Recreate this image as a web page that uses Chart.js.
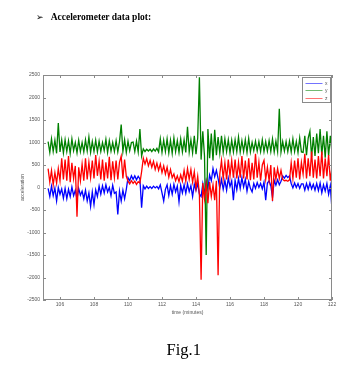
<!DOCTYPE html>
<html><head><meta charset="utf-8">
<script src="https://cdn.jsdelivr.net/npm/chart.js@4.4.1/dist/chart.umd.min.js"></script>
<style>
html,body{margin:0;padding:0;background:#fff;}
#wrap{position:relative;width:364px;height:373px;overflow:hidden;background:#fff;}
#c{position:absolute;left:0;top:0;}
.arrow{position:absolute;left:36px;top:13px;font:9px "DejaVu Sans",sans-serif;line-height:9.5px;color:#000;}
.head{position:absolute;left:50.7px;top:13.3px;font:bold 9.5px "Liberation Serif","Times New Roman",serif;line-height:9.5px;color:#000;white-space:nowrap;}
.cap{position:absolute;left:166.5px;top:342.2px;font:16.5px "Liberation Serif","Times New Roman",serif;line-height:16.5px;color:#000;white-space:nowrap;}
</style></head>
<body>
<div id="wrap">
<canvas id="c" width="364" height="373"></canvas>
<div class="arrow">➢</div>
<div class="head">Accelerometer data plot:</div>
<div class="cap">Fig.1</div>
</div>
<script>
const minutes = [
105.3,105.4,105.5,105.6,105.7,105.8,105.9,106.0,106.1,106.2,
106.3,106.4,106.5,106.6,106.7,106.8,106.9,107.0,107.1,107.2,
107.3,107.4,107.5,107.6,107.7,107.8,107.9,108.0,108.1,108.2,
108.3,108.4,108.5,108.6,108.7,108.8,108.9,109.0,109.1,109.2,
109.3,109.4,109.5,109.6,109.7,109.8,109.9,110.0,110.1,110.2,
110.3,110.4,110.5,110.6,110.7,110.8,110.9,111.0,111.1,111.2,
111.3,111.4,111.5,111.6,111.7,111.8,111.9,112.0,112.1,112.2,
112.3,112.4,112.5,112.6,112.7,112.8,112.9,113.0,113.1,113.2,
113.3,113.4,113.5,113.6,113.7,113.8,113.9,114.0,114.1,114.2,
114.3,114.4,114.5,114.6,114.7,114.8,114.9,115.0,115.1,115.2,
115.3,115.4,115.5,115.6,115.7,115.8,115.9,116.0,116.1,116.2,
116.3,116.4,116.5,116.6,116.7,116.8,116.9,117.0,117.1,117.2,
117.3,117.4,117.5,117.6,117.7,117.8,117.9,118.0,118.1,118.2,
118.3,118.4,118.5,118.6,118.7,118.8,118.9,119.0,119.1,119.2,
119.3,119.4,119.5,119.6,119.7,119.8,119.9,120.0,120.1,120.2,
120.3,120.4,120.5,120.6,120.7,120.8,120.9,121.0,121.1,121.2,
121.3,121.4,121.5,121.6,121.7,121.8,121.9,122.0
];
const accX = [
-20,-200,30,-180,-10,-300,0,-150,-30,-240,
-20,-250,-40,-200,10,-180,-60,-260,-20,-170,
-80,-250,-60,-300,-120,-420,-100,-380,-50,-200,
30,-150,40,-120,60,-100,0,-180,50,-130,
-100,-600,-80,-300,-60,-250,-40,220,150,260,
180,260,170,250,190,-450,40,-30,30,-20,
20,-20,30,-10,25,-30,60,-120,-300,-40,
60,-180,40,-150,70,-100,30,-320,50,-120,
60,-130,80,-90,40,-200,70,-60,90,-150,
-200,80,-150,150,-30,280,150,420,240,380,
200,-20,180,-40,160,-60,210,20,150,-280,
160,-50,200,-20,220,10,180,-80,130,-20,
-100,90,-20,110,0,90,-30,120,-280,100,
150,40,-220,160,50,170,60,140,260,210,
270,220,260,90,-10,100,0,90,-20,80,
80,-60,90,-40,100,-30,70,-60,90,-70,
100,-120,60,-80,90,-150,40,-500
];
const accY = [
1020,780,1080,800,1050,760,1430,790,1060,770,
1060,800,1040,760,1080,820,1000,770,1050,800,
1000,790,1060,810,1120,780,1020,800,1050,790,
1030,800,1000,820,1070,780,1040,810,1000,800,
1040,790,1020,1400,800,1060,780,1030,820,1000,
1010,800,1030,790,1300,700,860,800,850,810,
850,800,860,810,870,790,1080,780,1050,800,
1080,770,1050,760,1100,800,1040,780,1080,790,
1060,780,1350,790,1060,770,1150,740,1100,2450,
620,1250,700,-1500,1300,650,1200,600,1280,720,
1120,760,1150,780,1080,800,1060,770,1050,790,
1060,800,1120,790,1040,800,1060,780,1090,790,
1000,820,1030,810,1020,800,1060,800,1020,810,
1040,800,1080,790,1030,800,1750,790,1020,810,
1020,800,1030,790,1080,800,1020,780,1100,790,
780,1150,720,1100,1250,680,1120,700,1200,760,
1300,720,1150,660,1250,700,1150,760
];
const accZ = [
420,120,380,60,330,100,420,150,650,180,
620,150,700,120,550,200,480,-650,450,150,
520,150,650,180,560,220,600,200,720,260,
580,180,620,150,560,200,680,160,580,220,
600,180,560,700,200,620,250,140,80,150,
90,140,70,130,100,350,650,520,640,480,
600,450,580,400,540,380,520,330,480,300,
450,230,400,220,300,150,260,130,280,140,
380,140,420,180,400,120,350,-20,250,-150,
-2050,100,-250,80,-350,120,-200,60,-280,150,
-1950,300,600,200,550,180,620,250,600,220,
620,200,560,220,700,200,600,180,650,160,
550,180,750,220,560,150,500,600,180,450,
150,500,-300,450,180,420,200,380,180,150,
160,140,170,550,200,600,220,650,180,560,
300,750,200,650,250,800,220,620,200,700,
250,800,200,650,250,720,150,450
];
const seriesNames = ['x','y','z'];
const seriesColors = ['#0000ff','#008000','#ff0000'];
const xTicks = [106,108,110,112,114,116,118,120,122];
const yTicks = [-2500,-2000,-1500,-1000,-500,0,500,1000,1500,2000,2500];

const toPts = arr => minutes.map((t,i)=>({x:t,y:arr[i]}));
const allSeries = [accX, accY, accZ];

const tickFont = {family:'"Liberation Sans",Arial,sans-serif', size:5};

const frame = {
  id:'frame',
  afterDatasetsDraw(chart){
    const {ctx, chartArea:a, scales:{x,y}} = chart;
    ctx.save();
    ctx.strokeStyle = '#8a8a8a';
    ctx.lineWidth = 1;
    ctx.strokeRect(a.left+0.5, a.top+0.5, a.right-a.left-1, a.bottom-a.top-1);
    ctx.beginPath();
    x.ticks.forEach(t=>{
      const p = Math.round(x.getPixelForValue(t.value))+0.5;
      ctx.moveTo(p, a.bottom); ctx.lineTo(p, a.bottom-3);
      ctx.moveTo(p, a.top); ctx.lineTo(p, a.top+3);
    });
    y.ticks.forEach(t=>{
      const p = Math.round(y.getPixelForValue(t.value))+0.5;
      ctx.moveTo(a.left, p); ctx.lineTo(a.left+3, p);
      ctx.moveTo(a.right, p); ctx.lineTo(a.right-3, p);
    });
    ctx.stroke();
    ctx.restore();
  },
  afterDraw(chart){
    const {ctx, chartArea:a} = chart;
    const bx = a.right-29.5, by = a.top+2.5, bw = 28, bh = 25;
    ctx.save();
    ctx.fillStyle = '#fff';
    ctx.fillRect(bx, by, bw, bh);
    ctx.strokeStyle = '#8a8a8a';
    ctx.lineWidth = 1;
    ctx.strokeRect(bx, by, bw, bh);
    ctx.font = '5px "Liberation Sans",Arial,sans-serif';
    ctx.textBaseline = 'middle';
    ctx.fillStyle = '#555';
    chart.data.datasets.forEach((ds,i)=>{
      const ry = Math.round(by + 5 + i*7.5) + 0.5;
      ctx.strokeStyle = ds.borderColor;
      ctx.globalAlpha = 0.55;
      ctx.beginPath();
      ctx.moveTo(bx+3, ry); ctx.lineTo(bx+20, ry);
      ctx.stroke();
      ctx.globalAlpha = 1;
      ctx.fillText(ds.label, bx+22.5, ry);
    });
    ctx.restore();
  }
};

new Chart(document.getElementById('c'), {
  type:'line',
  data:{
    datasets: allSeries.map((arr,i)=>({
      label: seriesNames[i],
      data: toPts(arr),
      borderColor: seriesColors[i],
      backgroundColor: seriesColors[i],
      borderWidth: 1.3,
      pointRadius: 0,
      tension: 0,
      fill: false,
      order: 2 - i
    }))
  },
  options:{
    responsive:false,
    animation:false,
    devicePixelRatio:1,
    layout:{padding:{left:0, top:75, right:32, bottom:55}},
    plugins:{legend:{display:false}, tooltip:{enabled:false}, title:{display:false}},
    scales:{
      x:{
        type:'linear', min:105, max:122,
        afterBuildTicks: s => { s.ticks = xTicks.map(v=>({value:v})); },
        afterFit: s => { s.height = 18; },
        grid:{display:false, drawTicks:false},
        border:{display:false},
        ticks:{padding:2, font:tickFont, color:'#555', maxRotation:0, autoSkip:false, callback: v => String(v)},
        title:{display:true, text:'time (minutes)', font:tickFont, color:'#555', padding:{top:0,bottom:2}}
      },
      y:{
        type:'linear', min:-2500, max:2500,
        afterBuildTicks: s => { s.ticks = yTicks.map(v=>({value:v})); },
        afterFit: s => { s.width = 43; },
        grid:{display:false, drawTicks:false},
        border:{display:false},
        ticks:{padding:3, font:tickFont, color:'#555', autoSkip:false, callback: v => String(v)},
        title:{display:true, text:'acceleration', font:tickFont, color:'#555', padding:{top:20,bottom:0}}
      }
    }
  },
  plugins:[frame]
});
</script>
</body></html>
